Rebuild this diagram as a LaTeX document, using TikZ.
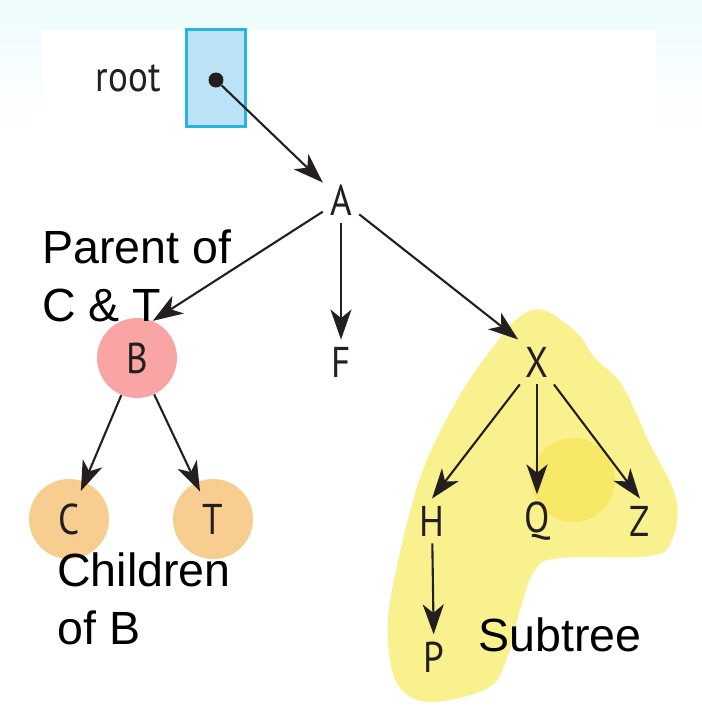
\documentclass[tikz,border=0pt]{standalone}
\usepackage{fontspec}
\setmainfont{Liberation Sans}
\newfontfamily\letterfont[FakeStretch=0.86]{PT Sans}
\usetikzlibrary{arrows.meta,positioning,shadings}
\definecolor{treeink}{RGB}{35,31,32}
\definecolor{ptrblue}{RGB}{187,226,246}
\definecolor{ptredge}{RGB}{40,180,225}
\definecolor{parentpink}{RGB}{249,165,165}
\definecolor{childorange}{RGB}{247,206,143}
\definecolor{hiliteyellow}{RGB}{249,241,142}
\definecolor{hilitedeep}{RGB}{246,229,78}
\definecolor{bgcyan}{RGB}{236,251,253}

\begin{document}
\begin{tikzpicture}[x=0.02cm,y=-0.02cm,key/.style={font=\letterfont\fontsize{24.5}{28}\selectfont,text=treeink,inner sep=4pt},ring/.style={key,circle,minimum size=1.6cm},note/.style={font=\fontsize{26.5}{33}\selectfont,align=left,anchor=north west,inner sep=0pt},arr/.style={-{Stealth[length=6mm,width=4.2mm,inset=1.7mm]},line width=1.2pt,draw=treeink}]
\useasboundingbox (0,0) rectangle (702,728);
% background
\shade[top color=bgcyan,bottom color=white] (0,0) rectangle (702,120);
\fill[white] (42,30) rectangle (656,728);
% highlighted subtree
\fill[hiliteyellow] plot[smooth cycle,tension=0.6] coordinates {(543,310) (577,333) (595,358) (622,385) (648,440) (676,498) (672,540) (650,556) (560,558) (535,570) (520,610) (507,658) (488,688) (430,702) (398,685) (388,640) (393,585) (420,478) (457,400) (493,347) (518,318)};
\fill[hilitedeep,opacity=0.6] (573,480) circle (42);
% pointer
\node[draw=ptredge,fill=ptrblue,line width=1.2pt,minimum width=1.18cm,minimum height=1.94cm,inner sep=0pt] (cell) at (216,78) {};
\node[key,anchor=east] (rootlbl) at (168,78) {root};
\node[circle,fill=treeink,inner sep=0pt,minimum size=3mm] (ptr) at (216,80) {};
% tree nodes
\node[key] (A) at (341,200) {A};
\node[ring,fill=parentpink] (B) at (137,358) {B};
\node[key] (F) at (341,362) {F};
\node[key] (X) at (537,362) {X};
\node[ring,fill=childorange] (C) at (69,519) {C};
\node[ring,fill=childorange] (T) at (213,519) {T};
\node[key] (H) at (432,521) {H};
\node[key] (Q) at (537,521) {Q};
\node[key] (Z) at (640,521) {Z};
\node[key] (P) at (434,657) {P};
% edges
\draw[arr] (ptr) -- (A);
\draw[arr] (A) -- (B.67);
\draw[arr] (A) -- (F);
\draw[arr] (A) -- (X.north west);
\foreach \kid in {C,T}{\draw[arr,shorten >=-2mm] (B) -- (\kid);}
\foreach \kid in {H,Q,Z}{\draw[arr] (X) -- (\kid.north);}
\draw[arr] (H) -- (P);
% annotations
\node[note] (parentnote) at (42,229) {Parent of\\C \& T};
\node[note] (childnote) at (57,552) {Children\\of B};
\node[note] (subnote) at (478,617) {Subtree};
\end{tikzpicture}
\end{document}
